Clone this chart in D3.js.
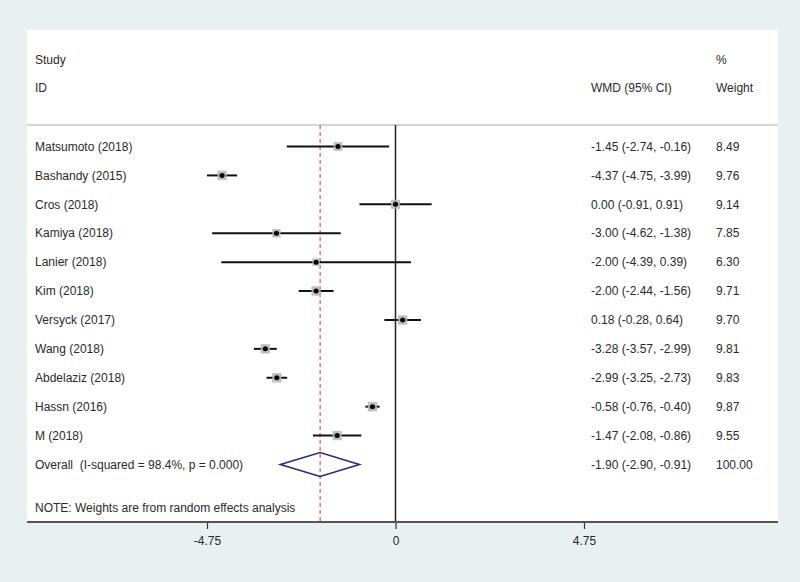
<!DOCTYPE html>
<html>
<head>
<meta charset="utf-8">
<script src="https://d3js.org/d3.v7.min.js"></script>
<style>
  body { margin: 0; background: #e8f0f2; }
  svg { display: block; }
  text { font-family: Arial, "Liberation Sans", sans-serif; font-size: 12px; fill: #2a2a2a; white-space: pre; }
</style>
</head>
<body>
<div id="chart"></div>
<script>
// study data
const studies = ["Matsumoto (2018)", "Bashandy (2015)", "Cros (2018)", "Kamiya (2018)", "Lanier (2018)",
  "Kim (2018)", "Versyck (2017)", "Wang (2018)", "Abdelaziz (2018)", "Hassn (2016)", "M (2018)"];
const wmd = [-1.45, -4.37, 0.00, -3.00, -2.00, -2.00, 0.18, -3.28, -2.99, -0.58, -1.47];
const ciLow = [-2.74, -4.75, -0.91, -4.62, -4.39, -2.44, -0.28, -3.57, -3.25, -0.76, -2.08];
const ciHigh = [-0.16, -3.99, 0.91, -1.38, 0.39, -1.56, 0.64, -2.99, -2.73, -0.40, -0.86];
const weights = [8.49, 9.76, 9.14, 7.85, 6.30, 9.71, 9.70, 9.81, 9.83, 9.87, 9.55];

const overallLabel = "Overall  (I-squared = 98.4%, p = 0.000)";
const overall = [-1.90, -2.90, -0.91]; // estimate, low, high
const overallWeight = 100.00;

const xTicks = [-4.75, 0, 4.75];
const noteText = "NOTE: Weights are from random effects analysis";

let width = 800, height = 582;
let panel = { left: 27, right: 778, top: 30, bottom: 522 };

let svg = d3.select("#chart").append("svg")
  .attr("width", width)
  .attr("height", height);

// white panel
svg.append("rect")
  .attr("x", panel.left)
  .attr("y", panel.top)
  .attr("width", panel.right - panel.left)
  .attr("height", panel.bottom - panel.top)
  .style("fill", "#fff");

let xScale = d3.scaleLinear()
  .domain([-4.75, 4.75])
  .range([207, 584]);

// row index -> y
let yScale = d3.scaleLinear()
  .domain([0, 11])
  .range([146.5, 464.5]);

// plain hyphen for minus, like Stata output
let fmt = d3.formatLocale({ decimal: ".", thousands: ",", grouping: [3], currency: ["", ""], minus: "-" }).format(".2f");
let ciText = (e, l, h) => fmt(e) + " (" + fmt(l) + ", " + fmt(h) + ")";

// headers
let lineTop = 125;
svg.append("text").attr("x", 35).attr("y", 60).attr("dy", "0.35em").text("Study");
svg.append("text").attr("x", 35).attr("y", 88).attr("dy", "0.35em").text("ID");
svg.append("text").attr("x", 716).attr("y", 60).attr("dy", "0.35em").text("%");
svg.append("text").attr("x", 591).attr("y", 88).attr("dy", "0.35em").text("WMD (95% CI)");
svg.append("text").attr("x", 716).attr("y", 88).attr("dy", "0.35em").text("Weight");

// header separator
svg.append("line")
  .attr("x1", panel.left).attr("x2", panel.right)
  .attr("y1", lineTop).attr("y2", lineTop)
  .style("stroke", "#aaa").style("stroke-width", 1);

// zero line
svg.append("line")
  .attr("x1", xScale(0)).attr("x2", xScale(0))
  .attr("y1", lineTop).attr("y2", panel.bottom)
  .style("stroke", "#222").style("stroke-width", 1.5);

// overall effect dashed line
svg.append("line")
  .attr("x1", xScale(overall[0])).attr("x2", xScale(overall[0]))
  .attr("y1", lineTop).attr("y2", panel.bottom)
  .style("stroke", "#c0392b").style("stroke-width", 1)
  .style("stroke-dasharray", "4,3");

let rows = studies.map((s, i) => ({ study: s, est: wmd[i], lo: ciLow[i], hi: ciHigh[i], w: weights[i], i: i }));

// CI lines
svg.selectAll(".ci")
  .data(rows)
  .enter()
  .append("line")
  .attr("class", "ci")
  .attr("x1", d => xScale(d.lo))
  .attr("x2", d => xScale(d.hi))
  .attr("y1", d => yScale(d.i))
  .attr("y2", d => yScale(d.i))
  .style("stroke", "#111").style("stroke-width", 2);

// weight boxes
svg.selectAll(".box")
  .data(rows)
  .enter()
  .append("rect")
  .attr("class", "box")
  .attr("x", d => xScale(d.est) - 1.5 * Math.sqrt(d.w))
  .attr("y", d => yScale(d.i) - 1.5 * Math.sqrt(d.w))
  .attr("width", d => 3 * Math.sqrt(d.w))
  .attr("height", d => 3 * Math.sqrt(d.w))
  .style("fill", "#b5b5b5")
  .style("opacity", 0.85);

// point estimates
svg.selectAll(".pt")
  .data(rows)
  .enter()
  .append("circle")
  .attr("class", "pt")
  .attr("cx", d => xScale(d.est))
  .attr("cy", d => yScale(d.i))
  .attr("r", 2.5)
  .style("fill", "#000");

// row texts
svg.selectAll(".lbl")
  .data(rows)
  .enter()
  .append("text")
  .attr("x", 35)
  .attr("y", d => yScale(d.i))
  .attr("dy", "0.35em")
  .text(d => d.study);

svg.selectAll(".citxt")
  .data(rows)
  .enter()
  .append("text")
  .attr("x", 591)
  .attr("y", d => yScale(d.i))
  .attr("dy", "0.35em")
  .text(d => ciText(d.est, d.lo, d.hi));

svg.selectAll(".wtxt")
  .data(rows)
  .enter()
  .append("text")
  .attr("x", 716)
  .attr("y", d => yScale(d.i))
  .attr("dy", "0.35em")
  .text(d => fmt(d.w));

// overall diamond
let yo = yScale(studies.length);
let dh = 12;
svg.append("path")
  .attr("d", "M" + xScale(overall[1]) + "," + yo +
    "L" + xScale(overall[0]) + "," + (yo - dh) +
    "L" + xScale(overall[2]) + "," + yo +
    "L" + xScale(overall[0]) + "," + (yo + dh) + "Z")
  .style("fill", "none")
  .style("stroke", "#2a2a7a")
  .style("stroke-width", 1.6);

svg.append("text").attr("x", 35).attr("y", yo).attr("dy", "0.35em").text(overallLabel);
svg.append("text").attr("x", 591).attr("y", yo).attr("dy", "0.35em").text(ciText(overall[0], overall[1], overall[2]));
svg.append("text").attr("x", 716).attr("y", yo).attr("dy", "0.35em").text(fmt(overallWeight));

// note
svg.append("text").attr("x", 35).attr("y", yScale(12.5)).attr("dy", "0.35em").text(noteText);

// X axis
let axis = svg.append("g")
  .attr("transform", "translate(0," + panel.bottom + ")")
  .call(d3.axisBottom(xScale).tickValues(xTicks).tickFormat(d => d === 0 ? "0" : fmt(d)).tickSize(7).tickSizeOuter(0));
axis.select(".domain").remove();
axis.selectAll(".tick line").style("stroke", "#333").style("stroke-width", 1.2);
axis.selectAll(".tick text").attr("y", 14).style("font-size", "12px").style("fill", "#2a2a2a")
  .style("font-family", "Arial, 'Liberation Sans', sans-serif");

svg.append("line")
  .attr("x1", panel.left).attr("x2", panel.right)
  .attr("y1", panel.bottom).attr("y2", panel.bottom)
  .style("stroke", "#555").style("stroke-width", 2);
</script>
</body>
</html>
